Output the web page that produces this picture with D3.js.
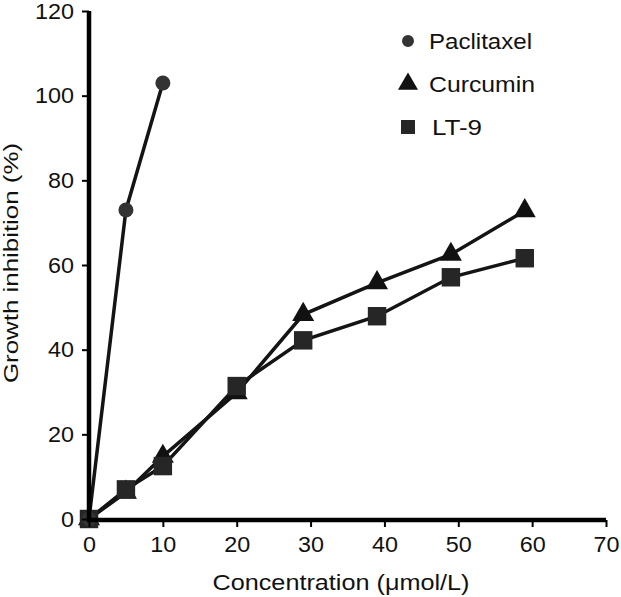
<!DOCTYPE html>
<html><head><meta charset="utf-8">
<script src="https://cdn.jsdelivr.net/npm/d3@7"></script>
<style>html,body{margin:0;padding:0;background:#fff;} text{font-family:"Liberation Sans",Arial,sans-serif;fill:#111;}</style>
</head><body>
<svg id="c" width="621" height="597"></svg>
<script>
const paclitaxelX = [0, 5, 10];
const paclitaxelY = [0, 73, 103];
const curcuminX = [0, 5, 10, 20, 29, 39, 49, 59];
const curcuminY = [0, 6.3, 14.8, 29.8, 48.3, 55.8, 62.5, 72.8];
const lt9X = [0, 5, 10, 20, 29, 39, 49, 59];
const lt9Y = [0, 7, 12.5, 31.4, 42.2, 47.9, 57.1, 61.6];
const xTicks = [0, 10, 20, 30, 40, 50, 60, 70];
const yTicks = [0, 20, 40, 60, 80, 100, 120];
const seriesNames = ["Paclitaxel", "Curcumin", "LT-9"];

const svg = d3.select("#c");
const x = d3.scaleLinear().domain([0, 70]).range([89, 606]);
const y = d3.scaleLinear().domain([0, 120]).range([519, 11]);

const series = [
  {name: seriesNames[0], xs: paclitaxelX, ys: paclitaxelY, sym: d3.symbolCircle, size: 177, legSize: 113, fill: "#333", tl: 103},
  {name: seriesNames[1], xs: curcuminX, ys: curcuminY, sym: d3.symbolTriangle, size: 210, legSize: 175, fill: "#111", tl: 106},
  {name: seriesNames[2], xs: lt9X, ys: lt9Y, sym: d3.symbolSquare, size: 340, legSize: 196, fill: "#262626", tl: 50}
];

const line = d3.line().x(d => x(d[0])).y(d => y(d[1]));
[series[1], series[2], series[0]].forEach(s => {
  const pts = s.xs.map((v, i) => [v, s.ys[i]]);
  svg.append("path").attr("d", line(pts)).attr("fill", "none")
    .attr("stroke", "#141414").attr("stroke-width", 3.5);
});
[series[1], series[2], series[0]].forEach(s => {
  const pts = s.xs.map((v, i) => [v, s.ys[i]]);
  svg.selectAll(null).data(pts).enter().append("path")
    .attr("d", d3.symbol().type(s.sym).size(s.size))
    .attr("transform", d => `translate(${x(d[0])},${y(d[1])})`)
    .attr("fill", s.fill);
});

const xAxis = svg.append("g").attr("transform", "translate(0,520)")
  .call(d3.axisBottom(x).tickValues(xTicks).tickSize(7).tickSizeOuter(0).tickPadding(9));
const yAxis = svg.append("g").attr("transform", "translate(89,0)")
  .call(d3.axisLeft(y).tickValues(yTicks).tickSize(7).tickSizeOuter(0).tickPadding(8));
[xAxis, yAxis].forEach(g => {
  g.select(".domain").attr("stroke", "#000").attr("stroke-width", 4.5);
  g.selectAll(".tick line").attr("stroke", "#000").attr("stroke-width", 2);
  g.selectAll(".tick text").attr("font-size", 22).attr("fill", "#111")
    .style("font-family", "'Liberation Sans', Arial, sans-serif")
    .attr("textLength", function() { return this.textContent.length * 13; })
    .attr("lengthAdjust", "spacingAndGlyphs");
});
yAxis.select(".domain").attr("d", `M0,${y(120)}V522`);
xAxis.select(".domain").attr("d", `M87,0H${x(70)}`);

svg.append("text").attr("x", 341).attr("y", 590).attr("text-anchor", "middle")
  .attr("font-size", 22).attr("textLength", 257).attr("lengthAdjust", "spacingAndGlyphs")
  .text("Concentration (μmol/L)");
svg.append("text").attr("transform", "translate(18,263) rotate(-90)").attr("text-anchor", "middle")
  .attr("font-size", 21).attr("textLength", 240).attr("lengthAdjust", "spacingAndGlyphs")
  .text("Growth inhibition (%)");

const leg = svg.append("g");
const legY = [41, 84, 127];
series.forEach((s, i) => {
  leg.append("path").attr("d", d3.symbol().type(s.sym).size(s.legSize))
    .attr("transform", `translate(408,${legY[i]})`).attr("fill", s.fill);
  leg.append("text").attr("x", i === 2 ? 432 : 429).attr("y", legY[i] + 8)
    .attr("font-size", 22).attr("textLength", s.tl).attr("lengthAdjust", "spacingAndGlyphs")
    .text(s.name);
});
</script>
</body></html>
